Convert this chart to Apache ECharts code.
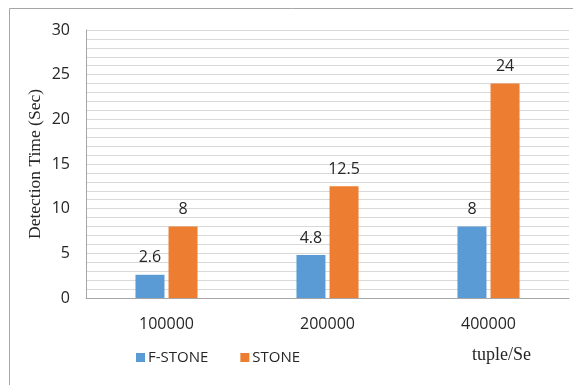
<!DOCTYPE html>
<html>
<head>
<meta charset="utf-8">
<script src="https://cdn.jsdelivr.net/npm/echarts@6/dist/echarts.min.js"></script>
<style>
html,body{margin:0;padding:0;background:#fff;}
#c{width:573px;height:385px;}
</style>
</head>
<body>
<div id="c"></div>
<script>
const categories = ['100000', '200000', '400000'];
const fStone = [2.6, 4.8, 8];
const stone = [8, 12.5, 24];
const seriesNames = ['F-STONE', 'STONE'];
const yTitle = 'Detection Time (Sec)';
const xUnit = 'tuple/Se';

const chart = echarts.init(document.getElementById('c'));
const labelFont = {fontFamily: 'Open Sans', fontSize: 16, color: '#262626'};
chart.setOption({
  animation: false,
  grid: {left: 86, right: 4, top: 30, bottom: 87, containLabel: false},
  legend: {
    data: seriesNames,
    left: 131, top: 345,
    icon: 'rect', itemWidth: 9, itemHeight: 9, itemGap: 32,
    textStyle: {fontFamily: 'Open Sans', fontSize: 15, color: '#262626', padding: [0, 0, 0, -2]}
  },
  xAxis: {
    type: 'category', data: categories,
    axisLine: {lineStyle: {color: '#a6a6a6', width: 1}},
    axisTick: {show: false},
    axisLabel: Object.assign({margin: 18}, labelFont)
  },
  yAxis: {
    type: 'value', min: 0, max: 30, interval: 1,
    name: yTitle, nameLocation: 'middle', nameRotate: 90, nameGap: 42,
    nameMoveOverlap: false,
    nameTextStyle: {fontFamily: 'Liberation Serif', fontSize: 17.5, color: '#262626'},
    axisLine: {show: true, lineStyle: {color: '#a6a6a6', width: 1}},
    axisTick: {show: false},
    splitLine: {lineStyle: {color: '#d9d9d9', width: 1}},
    axisLabel: Object.assign({margin: 16, formatter: v => (v % 5 === 0 ? String(v) : '')}, labelFont)
  },
  series: [
    {name: seriesNames[0], type: 'bar', data: fStone, barWidth: 29, barGap: '14%',
     itemStyle: {color: '#5B9BD5'},
     label: Object.assign({show: true, position: 'top', distance: 9}, labelFont)},
    {name: seriesNames[1], type: 'bar', data: stone, barWidth: 29,
     itemStyle: {color: '#ED7D31'},
     label: Object.assign({show: true, position: 'top', distance: 9}, labelFont)}
  ],
  graphic: [
    {type: 'line', shape: {x1: 9.5, y1: 8.5, x2: 573, y2: 8.5}, style: {stroke: '#a6a6a6', lineWidth: 1}},
    {type: 'line', shape: {x1: 9.5, y1: 8.5, x2: 9.5, y2: 385}, style: {stroke: '#a6a6a6', lineWidth: 1}},
    {type: 'text', left: 472, top: 346, style: {text: xUnit, font: '18px "Liberation Serif"', fill: '#262626'}}
  ]
});
</script>
</body>
</html>
